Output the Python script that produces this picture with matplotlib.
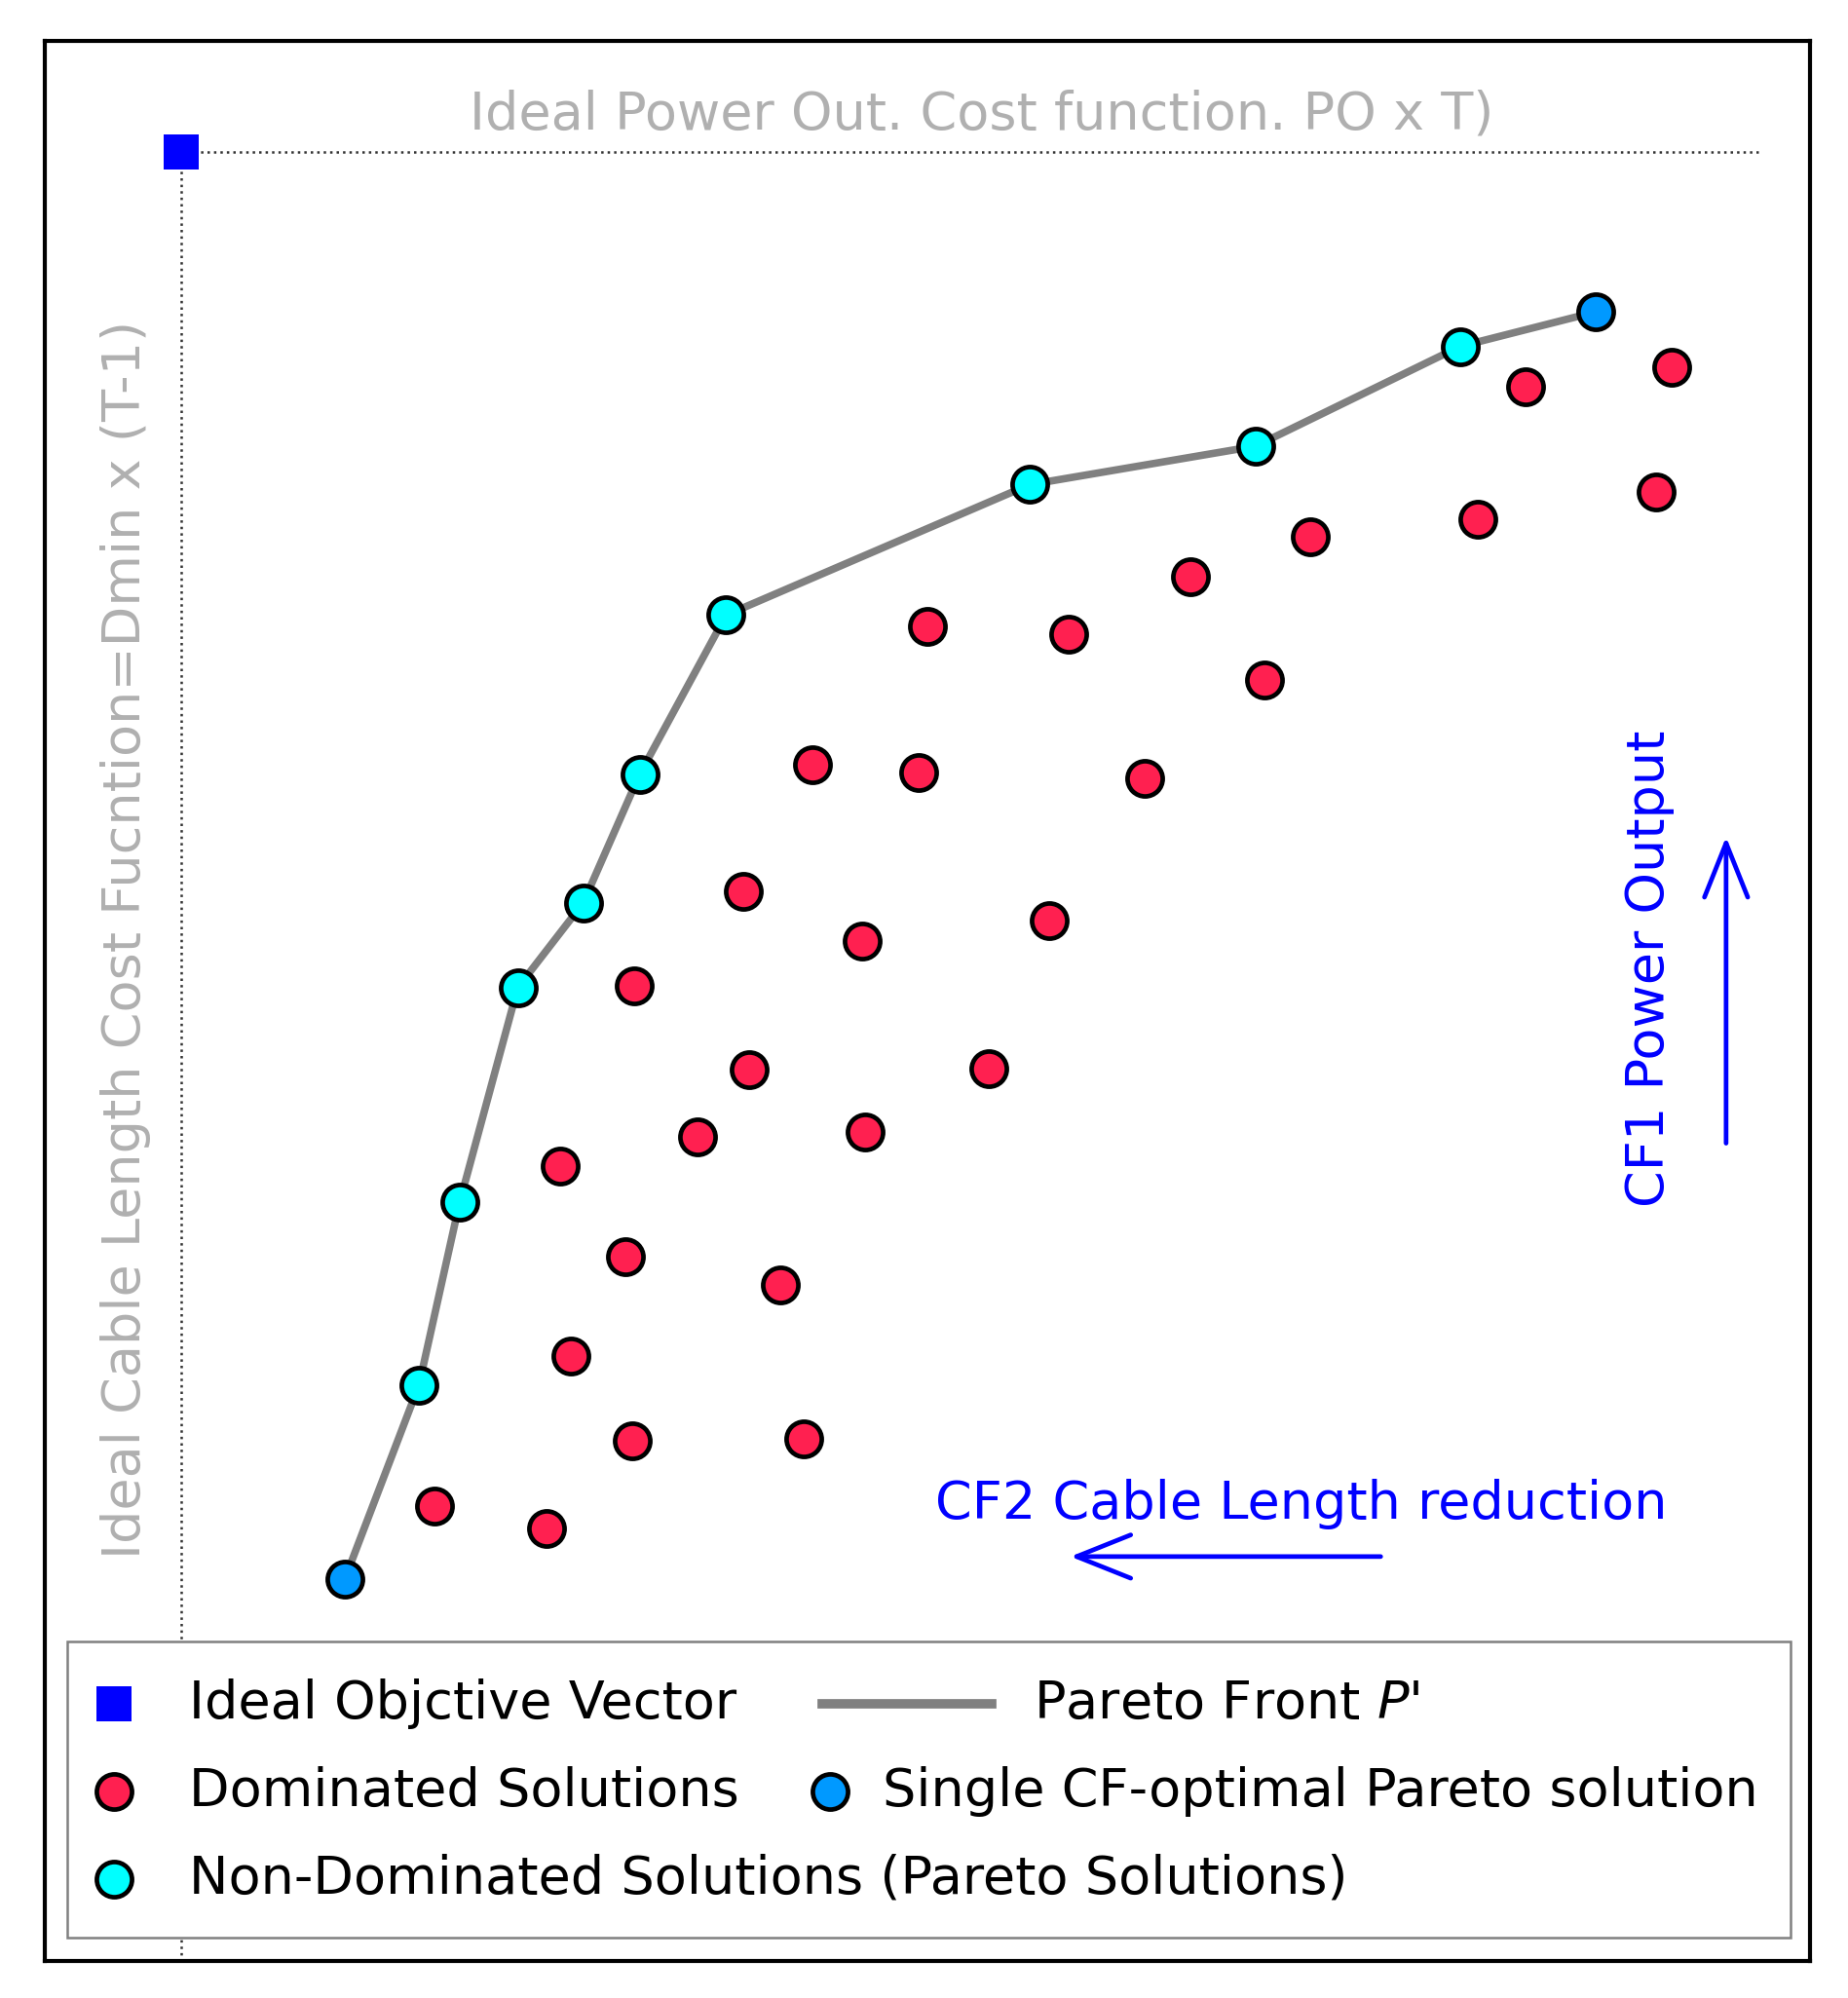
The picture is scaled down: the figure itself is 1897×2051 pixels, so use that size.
import numpy as np
import matplotlib
matplotlib.use("Agg")
import matplotlib.pyplot as plt
from matplotlib.patches import Rectangle, FancyArrowPatch

# --------- data (arbitrary 0-100 units: x = CF2, y = CF1) ---------
ideal_x, ideal_y = 7.7, 94.25

pareto_x = [17.0, 21.2, 23.5, 26.8, 30.5, 33.7, 38.6, 55.8, 68.6, 80.2, 87.9]
pareto_y = [19.9, 30.0, 39.5, 50.7, 55.1, 61.8, 70.1, 76.9, 78.9, 84.1, 85.9]

dom_x = [22.1, 28.4, 33.3, 43.0, 29.8, 32.9, 41.7, 29.2, 37.0, 46.5,
         39.9, 53.5, 33.4, 46.3, 56.9, 39.6, 43.5, 49.5, 62.3, 50.0,
         58.0, 69.1, 64.9, 71.7, 81.2, 91.3, 83.9, 92.2]
dom_y = [23.7, 22.5, 27.1, 27.2, 31.5, 36.7, 35.2, 41.4, 42.9, 43.2,
         46.4, 46.5, 50.8, 53.1, 54.2, 55.7, 62.3, 61.9, 61.6, 69.5,
         69.1, 66.7, 72.1, 74.2, 75.1, 76.5, 82.0, 83.0]

legend_labels = ["Ideal Objctive Vector", "Dominated Solutions",
                 "Non-Dominated Solutions (Pareto Solutions)",
                 "Pareto Front $P$'", "Single CF-optimal Pareto solution"]

RED = "#ff2050"
CYAN = "#00ffff"
BLUE_PT = "#0099ff"
BLUE = "#0000ff"
GREY_TXT = "#b0b0b0"
FS = 39
MS = 26
MEW = 3.4

fig = plt.figure(figsize=(18.97, 20.51), dpi=100)
ax = fig.add_axes([0.0243, 0.0186, 0.9549, 0.9608])
ax.set_xlim(0, 100)
ax.set_ylim(0, 100)
ax.set_xticks([])
ax.set_yticks([])
for s in ax.spines.values():
    s.set_linewidth(3)
    s.set_color("black")

# ideal point guides
ax.plot([ideal_x, 97.2], [ideal_y, ideal_y], ls=":", color="#333333", lw=1.8, zorder=1)
ax.plot([ideal_x, ideal_x], [ideal_y, 0], ls=":", color="#333333", lw=1.8, zorder=1)
ax.plot([ideal_x], [ideal_y], "s", color=BLUE, ms=MS, mew=0, zorder=3)

# pareto front
ax.plot(pareto_x, pareto_y, "-", color="#808080", lw=5.5, zorder=2)
mk = dict(ms=MS, mew=MEW, mec="black", ls="none", zorder=4)
ax.plot(dom_x, dom_y, "o", mfc=RED, **mk)
ax.plot(pareto_x[1:-1], pareto_y[1:-1], "o", mfc=CYAN, **mk)
ax.plot([pareto_x[0], pareto_x[-1]], [pareto_y[0], pareto_y[-1]], "o", mfc=BLUE_PT, **mk)

# axis-like annotations
ax.text(53.1, 96.2, "Ideal Power Out. Cost function. PO x T)", color=GREY_TXT,
        fontsize=FS, ha="center", va="center")
ax.text(4.6, 53.2, "Ideal Cable Length Cost Fucntion=Dmin x (T-1)", color=GREY_TXT,
        fontsize=FS, ha="center", va="center", rotation=90)

ax.text(71.2, 23.8, "CF2 Cable Length reduction", color=BLUE, fontsize=FS,
        ha="center", va="center")
ax.add_patch(FancyArrowPatch((75.85, 21.06), (57.96, 21.06),
                             arrowstyle="->,head_length=40,head_width=16",
                             mutation_scale=1, color=BLUE, lw=3.4, zorder=5))
ax.text(90.9, 51.7, "CF1 Power Output", color=BLUE, fontsize=FS,
        ha="center", va="center", rotation=90)
ax.add_patch(FancyArrowPatch((95.27, 42.45), (95.27, 58.69),
                             arrowstyle="->,head_length=40,head_width=16",
                             mutation_scale=1, color=BLUE, lw=3.4, zorder=5))

# --------- legend (drawn by hand, entries overlap columns in the original) ---------
T = ax.transAxes
ax.add_patch(Rectangle((0.0124, 0.012), 0.9766, 0.1544, transform=T,
                       facecolor="white", edgecolor="#808080", lw=1.8, zorder=6))
rows = [0.1337, 0.0882, 0.0428]
lk = dict(transform=T, clip_on=False, zorder=7)
ax.plot([0.0393], [rows[0]], "s", color=BLUE, ms=MS, mew=0, **lk)
ax.plot([0.0393], [rows[1]], "o", mfc=RED, ms=MS, mew=MEW, mec="black", **lk)
ax.plot([0.0393], [rows[2]], "o", mfc=CYAN, ms=MS, mew=MEW, mec="black", **lk)
ax.plot([0.4407, 0.5367], [rows[0], rows[0]], "-", color="#808080", lw=7, **lk)
ax.plot([0.445], [rows[1]], "o", mfc=BLUE_PT, ms=MS, mew=MEW, mec="black", **lk)

tk = dict(transform=T, fontsize=FS, va="center", ha="left", zorder=7)
ax.text(0.0815, rows[0], legend_labels[0], **tk)
ax.text(0.0815, rows[1], legend_labels[1], **tk)
ax.text(0.0815, rows[2], legend_labels[2], **tk)
ax.text(0.560, rows[0], legend_labels[3], **tk)
ax.text(0.4749, rows[1], legend_labels[4], **tk)

fig.savefig("out.png", dpi=100, facecolor="white")
